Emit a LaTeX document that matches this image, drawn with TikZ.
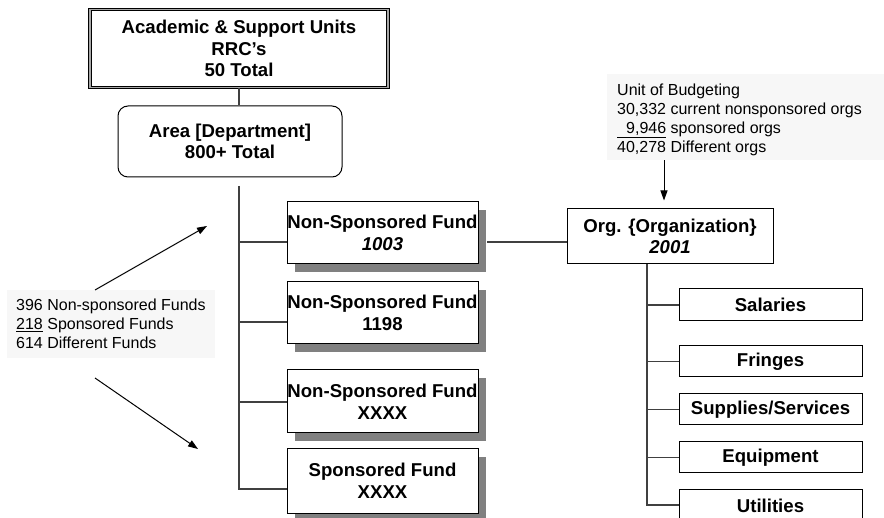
\documentclass[tikz,border=0pt]{standalone}
\usepackage{fontspec}
\setmainfont{Liberation Sans}
\usetikzlibrary{arrows.meta,shadows}
\definecolor{shgray}{HTML}{808080}
\definecolor{bggray}{HTML}{F7F7F7}
\definecolor{lngray}{HTML}{404040}
\definecolor{dblgray}{HTML}{A8A8A8}
\newcommand{\bfnt}{\fontsize{18.6}{21.6}\selectfont\bfseries}
\newcommand{\rgfnt}{\fontsize{16}{19}\selectfont}
\begin{document}
\begin{tikzpicture}[x=1pt,y=-1pt,
  box/.style={draw=black, line width=1pt, fill=white, inner sep=0pt, align=center, font=\bfnt},
  fundbox/.style={box, minimum width=191pt, drop shadow={shadow xshift=8pt, shadow yshift=-8pt, fill=shgray, opacity=1}},
  itembox/.style={box, minimum width=183pt},
  conn/.style={draw=lngray, line width=1.2pt},
  arr/.style={draw=black, line width=1pt, -{Triangle[length=10pt,width=7pt]}},
  note/.style={fill=bggray, inner sep=0pt, anchor=north west},
  notetext/.style={inner sep=0pt, anchor=north west, align=left, font=\rgfnt}
]
\clip (0,0) rectangle (884,518);
\fill[white] (0,0) rectangle (884,518);

% top and area
\node[box, line width=0.9pt, double=dblgray, double distance=1.4pt, minimum width=298pt, minimum height=78pt] (top) at (239,48.5) {Academic \& Support Units\\RRC’s\\50 Total};
\node[box, rounded corners=10pt, minimum width=224pt, minimum height=71pt] (area) at (230,141.5) {Area [Department]\\800+ Total};
\draw[conn] (top.south) -- (top.south |- area.north);

% fund boxes
\node[fundbox, minimum height=62pt] (f1) at (382.5,233) {Non-Sponsored Fund\\\textit{1003}};
\node[fundbox, minimum height=62pt] (f2) at (382.5,313) {Non-Sponsored Fund\\1198};
\node[fundbox, minimum height=63pt] (f3) at (382.5,401.5) {Non-Sponsored Fund\\XXXX};
\node[fundbox, minimum height=64pt] (f4) at (382.5,481) {Sponsored Fund\\XXXX};

\coordinate (tr0) at (239,186);
\coordinate (tr1) at (239,489);
\coordinate (b1) at (239,242);
\coordinate (b2) at (239,322);
\coordinate (b3) at (239,402);
\draw[conn] (tr0) -- (tr1) -- (tr1 -| f4.west);
\draw[conn] (b1) -- (b1 -| f1.west);
\draw[conn] (b2) -- (b2 -| f2.west);
\draw[conn] (b3) -- (b3 -| f3.west);

% org
\node[box, minimum width=206pt, minimum height=55pt] (org) at (670,236.5) {Org. \{Organization\}\\\textit{2001}};
\coordinate (c1) at (487,242);
\draw[conn] (c1) -- (c1 -| org.west);

% item boxes
\node[itembox, minimum height=32pt] (sal) at (770.5,305) {Salaries};
\node[itembox, minimum height=31pt] (fri) at (770.5,361.5) {Fringes};
\node[itembox, minimum height=31pt] (sup) at (770.5,409.5) {Supplies/Services};
\node[itembox, minimum height=31pt] (equ) at (770.5,457.5) {Equipment};
\node[itembox, minimum height=32pt] (uti) at (770.5,506) {Utilities};
\coordinate (ov) at (647,505);
\draw[conn] (ov |- org.south) -- (ov) -- (ov -| uti.west);
\draw[conn] (ov |- sal.west) -- (sal.west);
\draw[conn] (ov |- fri.west) -- (fri.west);
\draw[conn] (ov |- sup.west) -- (sup.west);
\draw[conn] (ov |- equ.west) -- (equ.west);

% unit of budgeting note
\node[note, minimum width=277pt, minimum height=86pt] (ubox) at (607,74) {};
\node[notetext] (utext) at (617,83.5) {Unit of Budgeting\\30,332 current nonsponsored orgs\\\underline{\hspace*{9pt}9,946} sponsored orgs\\40,278 Different orgs};
\coordinate (ax) at (664,0);
\draw[arr, shorten >=8pt] (ax |- ubox.south) -- (ax |- org.north);

% funds note
\node[note, minimum width=208pt, minimum height=68pt] (lbox) at (7,290) {};
\node[notetext] (ltext) at (16,298.5) {396 Non-sponsored Funds\\\underline{218} Sponsored Funds\\614 Different Funds};
\coordinate (lx) at (95,0);
\coordinate (la1) at (207,226);
\coordinate (lb0) at (95,378);
\coordinate (lb1) at (198,449);
\draw[arr] (lx |- lbox.north) -- (la1);
\draw[arr] (lb0) -- (lb1);
\end{tikzpicture}
\end{document}
